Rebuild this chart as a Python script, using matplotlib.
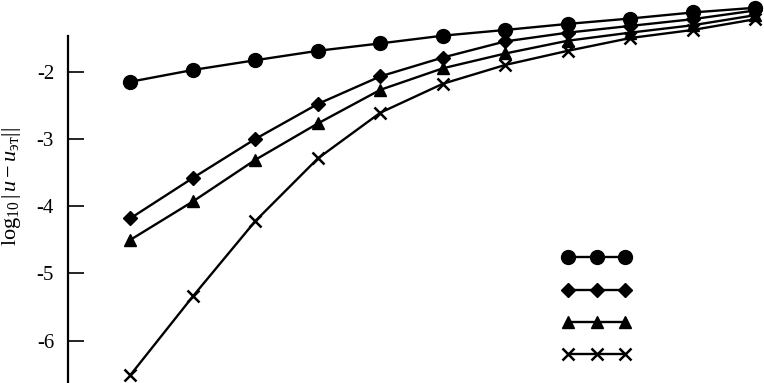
import numpy as np
import matplotlib
matplotlib.use("Agg")
import matplotlib.pyplot as plt

#-- DATA
x_vals = [1, 2, 3, 4, 5, 6, 7, 8, 9, 10, 11]
err_circle = [-2.15, -1.975, -1.83, -1.69, -1.58, -1.465, -1.38, -1.29, -1.21, -1.12, -1.05]
err_diamond = [-4.18, -3.58, -3.00, -2.48, -2.07, -1.79, -1.55, -1.42, -1.32, -1.22, -1.09]
err_triangle = [-4.50, -3.93, -3.31, -2.77, -2.27, -1.95, -1.73, -1.54, -1.42, -1.31, -1.16]
err_cross = [-6.51, -5.34, -4.22, -3.29, -2.61, -2.18, -1.90, -1.69, -1.50, -1.38, -1.22]
y_ticks = [-2, -3, -4, -5, -6]

#-- STYLE
plt.rcParams['font.family'] = ['Liberation Serif', 'DejaVu Serif']
plt.rcParams['mathtext.fontset'] = 'custom'
plt.rcParams['mathtext.rm'] = 'Liberation Serif'
plt.rcParams['mathtext.it'] = 'Liberation Serif:italic'
plt.rcParams['axes.unicode_minus'] = False

W, H = 764, 383
fig = plt.figure(figsize=(W / 100, H / 100), dpi=100)
ax = fig.add_axes([68 / W, 0, (W - 68) / W, (H - 36) / H])

series = [
    (err_circle, 'o', 10, 1.0),
    (err_diamond, 'D', 7, 1.0),
    (err_triangle, '^', 9, 1.0),
    (err_cross, 'x', 9, 1.8),
]
handles = []
for vals, mk, ms, mew in series:
    ln, = ax.plot(x_vals, vals, color='black', lw=1.7, marker=mk, ms=ms,
                  mew=mew, clip_on=False)
    handles.append(ln)

ax.set_xlim(0, 11.14)
ax.set_ylim(-6.63, -1.47)
ax.set_yticks(y_ticks)
ax.set_yticklabels([str(t) for t in y_ticks])
ax.set_xticks([])
for s in ['top', 'right', 'bottom']:
    ax.spines[s].set_visible(False)
ax.spines['left'].set_linewidth(1.6)
ax.tick_params(axis='y', direction='in', length=11.5, width=1.2, labelsize=15, pad=10)
ax.set_ylabel(r'$\log_{10}|\,u-u_{\mathrm{эт}}||$', fontsize=16)
ax.yaxis.set_label_coords(-0.065, 0.565)

ax.legend(handles, ['', '', '', ''], loc='upper left',
          bbox_to_anchor=(0.69, 0.423), frameon=False, numpoints=3,
          handlelength=4.0, labelspacing=0.98, fontsize=12, handletextpad=0)

fig.savefig('out.png', dpi=100)
